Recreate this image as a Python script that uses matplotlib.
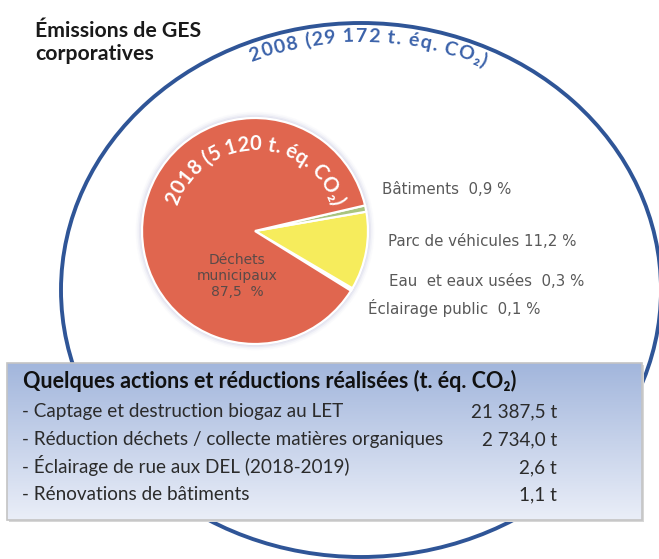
import numpy as np
import matplotlib
matplotlib.use("Agg")
import matplotlib.pyplot as plt
from matplotlib.patches import Ellipse, Circle, Rectangle
from matplotlib.textpath import TextPath
from matplotlib.font_manager import FontProperties
import matplotlib.colors as mcolors

# ---------------- data ----------------
title_lines = ["Émissions de GES", "corporatives"]
year_2008 = "2008"
total_2008 = 29172
year_2018 = "2018"
total_2018 = 5120
categories = ["Déchets municipaux", "Bâtiments", "Parc de véhicules",
              "Eau et eaux usées", "Éclairage public"]
pct_2018 = [87.5, 0.9, 11.2, 0.3, 0.1]
cat_colors = ["#E0664F", "#A9C47F", "#F6EC5C", "#BFD7EE", "#D9D9D9"]
box_title = "Quelques actions et réductions réalisées (t. éq. CO₂)"
actions = ["Captage et destruction biogaz au LET",
           "Réduction déchets / collecte matières organiques",
           "Éclairage de rue aux DEL (2018-2019)",
           "Rénovations de bâtiments"]
reductions = [21387.5, 2734.0, 2.6, 1.1]

W, H = 659, 559
DPI = 100
PX = DPI / 72.0


def Y(y):
    return H - y


def fr_num(v, dec=1):
    s = f"{v:,.{dec}f}"
    return s.replace(",", " ").replace(".", ",")


def fr_int(v):
    return f"{v:,d}".replace(",", " ")


fig = plt.figure(figsize=(W / DPI, H / DPI), dpi=DPI)
fig.patch.set_facecolor("white")
ax = fig.add_axes([0, 0, 1, 1])

# ---------- prefix advance widths (pixels) ----------
def advances(s, fp, track=0.0):
    bar = TextPath((0, 0), "|", prop=fp).get_extents().x1
    out = [0.0]
    for i in range(1, len(s) + 1):
        x1 = TextPath((0, 0), s[:i] + "|", prop=fp).get_extents().x1
        out.append((x1 - bar) * PX + track * i)
    return out


# ---------- big ellipse (2008) ----------
ecx, ecy, ea, eb = 361, 290, 300, 267
ax.add_patch(Ellipse((ecx, Y(ecy)), 2 * ea, 2 * eb, fill=False,
                     edgecolor="#2F5597", lw=2.8, zorder=1))

# curved text along ellipse
fp_e = FontProperties(family=["Lato", "DejaVu Sans"], weight="bold", size=14)
txt_e = f"{year_2008} ({fr_int(total_2008)} t. éq. CO₂)"
adv = advances(txt_e, fp_e, track=1.3)
total = adv[-1]
d = 19
ta, tb = ea - d, eb - d
tt = np.linspace(np.pi * 0.95, np.pi * 0.05, 4000)
xs = ecx + ta * np.cos(tt)
ys = Y(ecy) + tb * np.sin(tt)
seg = np.hypot(np.diff(xs), np.diff(ys))
arc = np.concatenate([[0], np.cumsum(seg)])
x_center = 368
i0 = np.argmin(np.abs(xs - x_center))
s0 = arc[i0] - total / 2
for i, ch in enumerate(txt_e):
    if ch == " ":
        continue
    sc = s0 + (adv[i] + adv[i + 1]) / 2
    k = np.searchsorted(arc, sc)
    k = min(max(k, 1), len(xs) - 2)
    dx = xs[k + 1] - xs[k - 1]
    dy = ys[k + 1] - ys[k - 1]
    rot = np.degrees(np.arctan2(dy, dx))
    ax.text(xs[k], ys[k], ch, fontproperties=fp_e, color="#3B62AA",
            ha="center", va="baseline", rotation=rot, rotation_mode="anchor",
            zorder=2)

# ---------- pie (2018) ----------
pcx, pcy, pr = 255, 231, 113
for k, al in enumerate([0.35, 0.25, 0.15, 0.08]):
    ax.add_patch(Circle((pcx, Y(pcy)), pr + 1.5 + 1.6 * k, color="#C9CBE3",
                        alpha=al, lw=0, zorder=1.5))
order = [4, 3, 2, 1, 0]
vals = [pct_2018[i] for i in order]
cols = [cat_colors[i] for i in order]
start = -31.9
ax.pie(vals, colors=cols, startangle=start, counterclock=True,
       center=(pcx, Y(pcy)), radius=pr,
       wedgeprops=dict(edgecolor="white", linewidth=1.6, zorder=2))

fp_p = FontProperties(family=["Lato", "DejaVu Sans"], weight="bold", size=14.5)
txt_p = f"{year_2018} ({fr_int(total_2018)} t. éq. CO₂)"
adv = advances(txt_p, fp_p)
total = adv[-1]
rb = 81
mid = np.radians(90)
for i, ch in enumerate(txt_p):
    if ch == " ":
        continue
    sc = (adv[i] + adv[i + 1]) / 2 - total / 2
    ang = mid - sc / rb
    x = pcx + rb * np.cos(ang)
    y = Y(pcy) + rb * np.sin(ang)
    ax.text(x, y, ch, fontproperties=fp_p, color="white", ha="center",
            va="baseline", rotation=np.degrees(ang) - 90,
            rotation_mode="anchor", zorder=3)

# slice labels
lab_fp = dict(family=["DejaVu Sans"], size=10.8)
lab_col = "#595959"
ax.text(237, Y(276), f"Déchets\nmunicipaux\n{fr_num(pct_2018[0])}  %",
        ha="center", va="center", color="#5A4A48", linespacing=1.2,
        zorder=3, family=["DejaVu Sans"], size=10)
side = [(1, 382, 190), (2, 388, 242), (3, 389, 282), (4, 368, 308)]
for idx, x, y in side:
    name = categories[idx]
    if idx == 3:
        name = "Eau  et eaux usées "
    if idx == 1 or idx == 4:
        name = name + " "
    ax.text(x, Y(y), f"{name} {fr_num(pct_2018[idx])} %", ha="left",
            va="center", color=lab_col, zorder=3, **lab_fp)

# ---------- title ----------
fp_t = FontProperties(family=["Lato", "DejaVu Sans"], weight="bold", size=15.3)
ax.text(35, Y(37), title_lines[0], fontproperties=fp_t, color="#1A1A1A",
        ha="left", va="baseline", zorder=3)
ax.text(35, Y(60), title_lines[1], fontproperties=fp_t, color="#1A1A1A",
        ha="left", va="baseline", zorder=3)

# ---------- action box ----------
bx0, bx1, by0, by1 = 7, 642, 363, 520
ax.add_patch(Rectangle((bx0 + 1.5, Y(by1 + 1.5)), bx1 - bx0, by1 - by0,
                       color="#D6D6D6", lw=0, zorder=4))
top = np.array(mcolors.to_rgb("#A2B6DC"))
bot = np.array(mcolors.to_rgb("#EAEEF8"))
tg = np.linspace(0, 1, 256)[:, None]
grad = top[None, None, :] * (1 - tg[..., None]) + bot[None, None, :] * tg[..., None]
ax.imshow(grad, extent=[bx0, bx1, Y(by1), Y(by0)], aspect="auto",
          zorder=5, interpolation="bilinear")
ax.add_patch(Rectangle((bx0, Y(by1)), bx1 - bx0, by1 - by0, fill=False,
                       edgecolor="#C4C4C4", lw=1.2, zorder=6))

fp_bt = FontProperties(family=["Lato", "DejaVu Sans"], weight="bold", size=15.5)
fp_br = FontProperties(family=["Lato", "DejaVu Sans"], size=13.6)
ax.text(23, Y(388), box_title, fontproperties=fp_bt, color="#111111",
        ha="left", va="baseline", zorder=7)
row_y = [417, 445, 473, 500]
for a, v, yy in zip(actions, reductions, row_y):
    ax.text(22, Y(yy), f"- {a}", fontproperties=fp_br, color="#2B2B2B",
            ha="left", va="baseline", zorder=7)
    ax.text(557, Y(yy), f"{fr_num(v)} t", fontproperties=fp_br,
            color="#2B2B2B", ha="right", va="baseline", zorder=7)

ax.set_xlim(0, W)
ax.set_ylim(0, H)
ax.set_aspect("auto")
ax.axis("off")
fig.savefig("out.png", dpi=DPI, facecolor="white")
